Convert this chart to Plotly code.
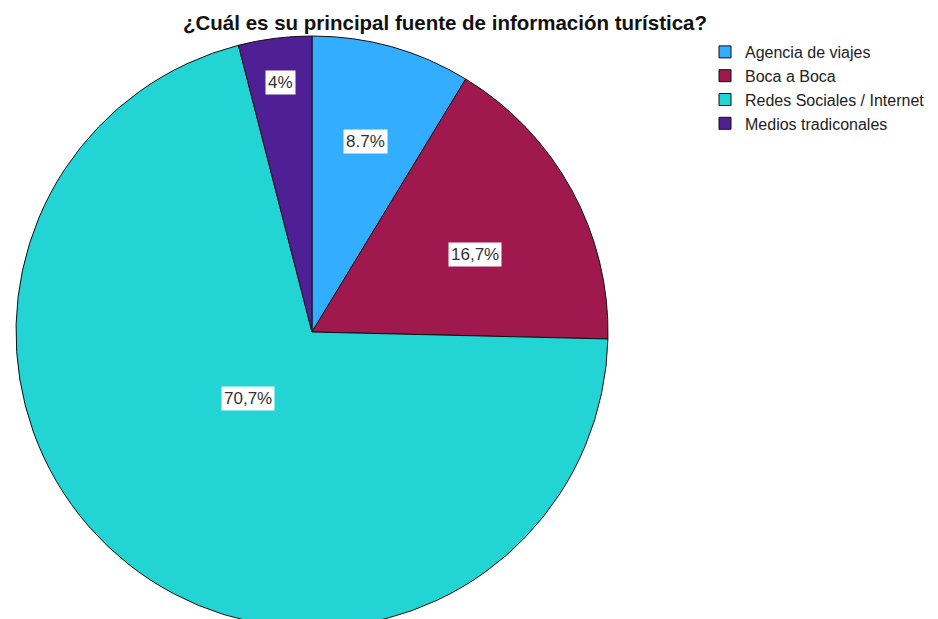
import math
import plotly.graph_objects as go

categories = ["Agencia de viajes", "Boca a Boca", "Redes Sociales / Internet", "Medios tradiconales"]
values = [8.7, 16.7, 70.7, 4]
value_labels = ["8.7%", "16,7%", "70,7%", "4%"]

colors = ["#33ADFF", "#A0194E", "#22D5D4", "#4F1F96"]
label_radius = [0.67, 0.61, 0.31, 0.85]
label_angle_shift = [0.0, 3.3, 5.4, 0.0]

W, H = 930, 620
T = 28
R = (H - T) / 2
CX = 304

fig = go.Figure()
fig.add_trace(go.Pie(
    labels=categories,
    values=values,
    sort=False,
    direction="clockwise",
    rotation=0,
    marker=dict(colors=colors, line=dict(color="#111111", width=1)),
    textinfo="none",
    hoverinfo="label+value",
    domain=dict(x=[(CX - R) / W, (CX + R) / W], y=[0, 1]),
))

total = sum(values)
cum = 0
annotations = []
for v, txt, f, da in zip(values, value_labels, label_radius, label_angle_shift):
    mid = (cum + v / 2) / total * 2 * math.pi + math.radians(da)
    cum += v
    px = CX + f * R * math.sin(mid)
    py = T + R - f * R * math.cos(mid)
    annotations.append(dict(
        x=px / W, y=(H - py) / (H - T), xref="paper", yref="paper",
        xanchor="center", yanchor="middle",
        text=txt, showarrow=False, bgcolor="white",
        font=dict(family="Liberation Sans, Arial", size=17, color="#333333"),
        borderpad=2,
    ))

fig.update_layout(
    width=W, height=H,
    margin=dict(l=0, r=0, t=T, b=0),
    paper_bgcolor="white",
    title=dict(text="<b>¿Cuál es su principal fuente de información turística?</b>",
               x=437 / W, xanchor="center", y=1 - 15 / H, yanchor="middle",
               font=dict(family="Liberation Sans, Arial", size=20.5, color="#111111")),
    legend=dict(x=697 / W, xanchor="left", y=1 + 1 / (H - T), yanchor="top",
                font=dict(family="Liberation Sans, Arial", size=16, color="#222222"),
                bgcolor="rgba(0,0,0,0)", itemwidth=30, tracegroupgap=0),
    annotations=annotations,
    showlegend=True,
)

fig.write_html("out.html")
